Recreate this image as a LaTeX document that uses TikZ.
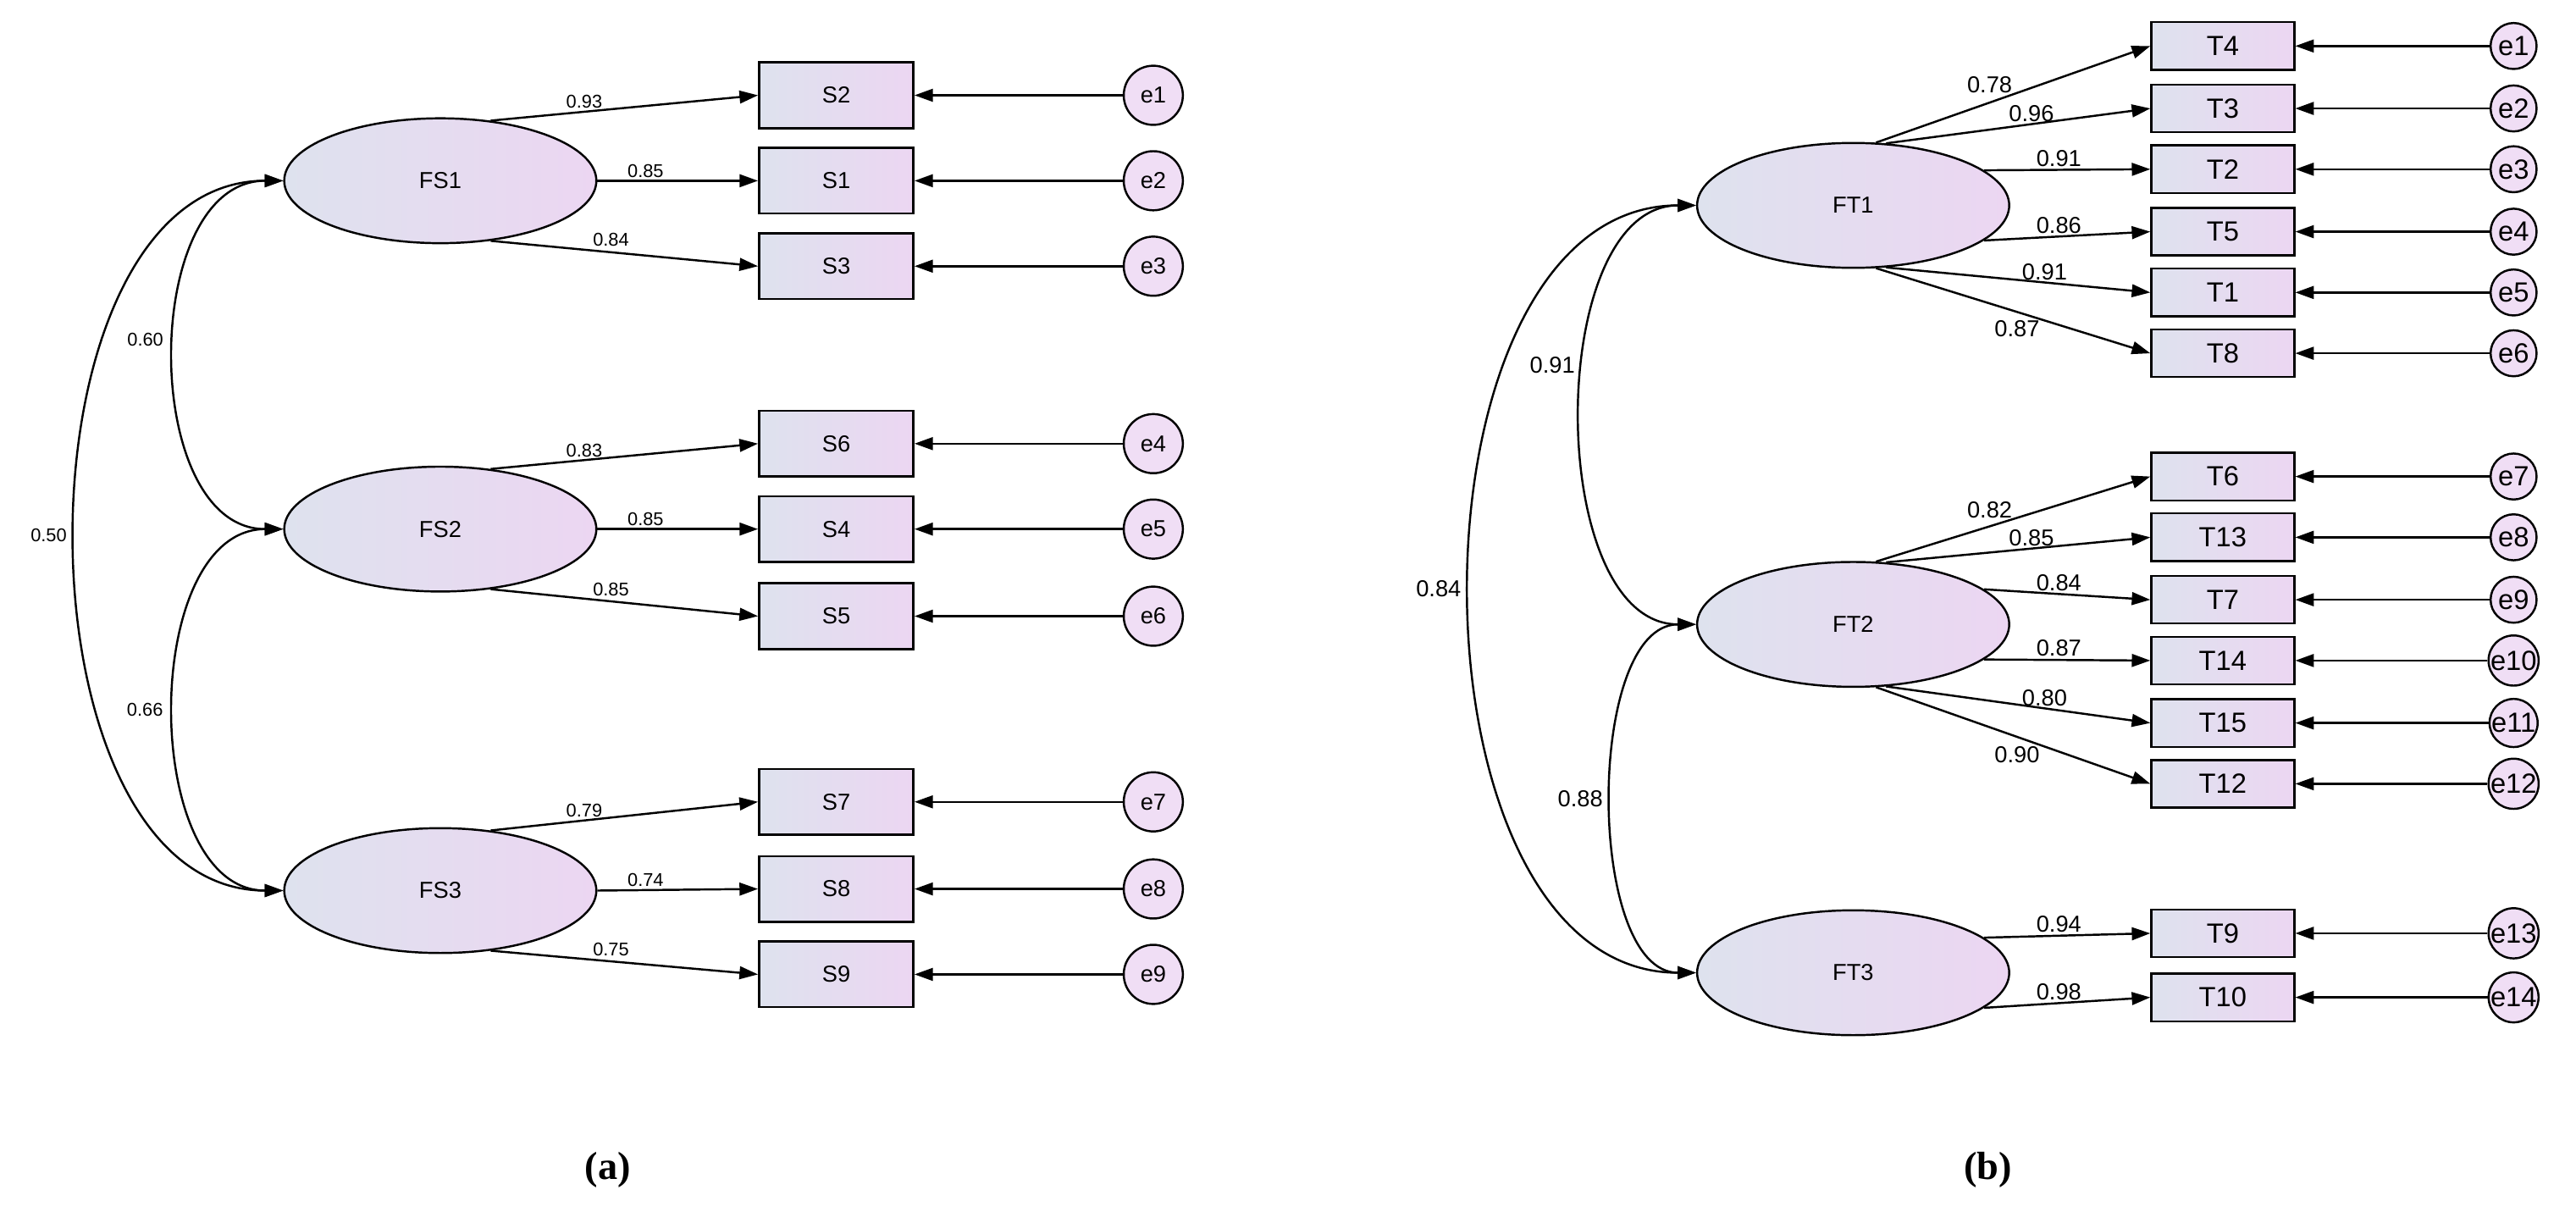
\documentclass[tikz,border=0pt]{standalone}
\usepackage{fontspec}
\setmainfont{Liberation Sans}
\newfontfamily\capfont{Liberation Serif}
\usetikzlibrary{arrows.meta,shapes.geometric}
\definecolor{ga}{RGB}{222,226,238}
\definecolor{gb}{RGB}{236,214,242}
\begin{document}
\begin{tikzpicture}[x=0.05cm,y=-0.05cm,
  lat/.style={ellipse,draw,line width=1.8pt,left color=ga,right color=gb,minimum width=9.5cm,minimum height=3.8cm,font=\fontsize{20}{24}\selectfont},
  obsL/.style={rectangle,draw,line width=1.8pt,left color=ga,right color=gb,minimum width=4.7cm,minimum height=2cm,font=\fontsize{20}{24}\selectfont},
  obsR/.style={rectangle,draw,line width=1.8pt,left color=ga,right color=gb,minimum width=4.35cm,minimum height=1.45cm,font=\fontsize{24}{28}\selectfont},
  errL/.style={circle,draw,line width=1.8pt,fill=gb!80,minimum size=1.8cm,inner sep=0pt,font=\fontsize{20}{24}\selectfont},
  errR/.style={circle,draw,line width=1.8pt,fill=gb!80,minimum size=1.4cm,inner sep=0pt,font=\fontsize{24}{28}\selectfont},
  arr/.style={line width=1.8pt,-{Triangle[length=16pt,width=11pt]}},
  cov/.style={line width=1.8pt,{Triangle[length=16pt,width=11pt]}-{Triangle[length=16pt,width=11pt]}},
  lbl/.style={font=\fontsize{16}{19}\selectfont,inner sep=2pt},
  lblR/.style={font=\fontsize{20}{24}\selectfont,inner sep=2pt},
  captxt/.style={font=\capfont\bfseries\fontsize{34}{40}\selectfont}]
\useasboundingbox (0,0) rectangle (1568,744);
% ---------- panel (a)
\node[lat] (FS1) at (268,110) {FS1};
\node[lat] (FS2) at (268,322) {FS2};
\node[lat] (FS3) at (268,542) {FS3};
\foreach \n/\y/\e in {S2/58/e1,S1/110/e2,S3/162/e3,S6/270/e4,S4/322/e5,S5/375/e6,S7/488/e7,S8/541/e8,S9/593/e9}{
  \node[obsL] (\n) at (509,\y) {\n};
  \node[errL] (\e) at (702,\y) {\e};
  \draw[arr] (\e) -- (\n);
}
\foreach \f/\a/\b/\c/\la/\lb/\lc in {FS1/S2/S1/S3/0.93/0.85/0.84,FS2/S6/S4/S5/0.83/0.85/0.85,FS3/S7/S8/S9/0.79/0.74/0.75}{
  \draw[arr] (\f.50) -- node[lbl,above,pos=0.35]{\la} (\a.west);
  \draw[arr] (\f.east) -- node[lbl,above,pos=0.3]{\lb} (\b.west);
  \draw[arr] (\f.-50) -- node[lbl,above,pos=0.45,yshift=2pt]{\lc} (\c.west);
}
\draw[cov] (FS1.west) .. controls (85,110) and (85,322) .. node[lbl,pos=0.47,left=8pt]{0.60} (FS2.west);
\draw[cov] (FS2.west) .. controls (85,322) and (85,542) .. node[lbl,pos=0.5,left=8pt]{0.66} (FS3.west);
\draw[cov] (FS1.west) .. controls (5,110) and (5,542) .. node[lbl,pos=0.5,left=6pt]{0.50} (FS3.west);
\node[captxt] (ca) at (370,712) {(a)};
% ---------- panel (b)
\node[lat] (FT1) at (1128,125) {FT1};
\node[lat] (FT2) at (1128,380) {FT2};
\node[lat] (FT3) at (1128,592) {FT3};
\foreach \n/\y/\e in {T4/28/e1,T3/66/e2,T2/103/e3,T5/141/e4,T1/178/e5,T8/215/e6,T6/290/e7,T13/327/e8,T7/365/e9,T14/402/e10,T15/440/e11,T12/477/e12,T9/568/e13,T10/607/e14}{
  \node[obsR] (\n) at (1353,\y) {\n};
  \node[errR] (\e) at (1530,\y) {\e};
  \draw[arr] (\e) -- (\n);
}
\foreach \f/\a/\b/\c/\d/\ee/\g/\la/\lb/\lc/\ld/\le/\lg in {FT1/T4/T3/T2/T5/T1/T8/0.78/0.96/0.91/0.86/0.91/0.87,FT2/T6/T13/T7/T14/T15/T12/0.82/0.85/0.84/0.87/0.80/0.90}{
  \draw[arr] (\f.70) -- node[lblR,pos=0.5,above left=-2pt]{\la} (\a.west);
  \draw[arr] (\f.62) -- node[lblR,pos=0.55,above=-1pt]{\lb} (\b.west);
  \draw[arr] (\f.15) -- node[lblR,pos=0.45,above]{\lc} (\c.west);
  \draw[arr] (\f.-15) -- node[lblR,pos=0.45,above]{\ld} (\d.west);
  \draw[arr] (\f.-62) -- node[lblR,pos=0.6,above=-1pt]{\le} (\ee.west);
  \draw[arr] (\f.-70) -- node[lblR,pos=0.6,below left=-2pt]{\lg} (\g.west);
}
\draw[arr] (FT3.15) -- node[lblR,pos=0.45,above]{0.94} (T9.west);
\draw[arr] (FT3.-15) -- node[lblR,pos=0.45,above]{0.98} (T10.west);
\draw[cov] (FT1.west) .. controls (940,125) and (940,380) .. node[lblR,pos=0.42,left=6pt]{0.91} (FT2.west);
\draw[cov] (FT2.west) .. controls (965,380) and (965,592) .. node[lblR,pos=0.5,left=6pt]{0.88} (FT3.west);
\draw[cov] (FT1.west) .. controls (850,125) and (850,592) .. node[lblR,pos=0.5,left=6pt]{0.84} (FT3.west);
\node[captxt] (cb) at (1210,712) {(b)};
\end{tikzpicture}
\end{document}
